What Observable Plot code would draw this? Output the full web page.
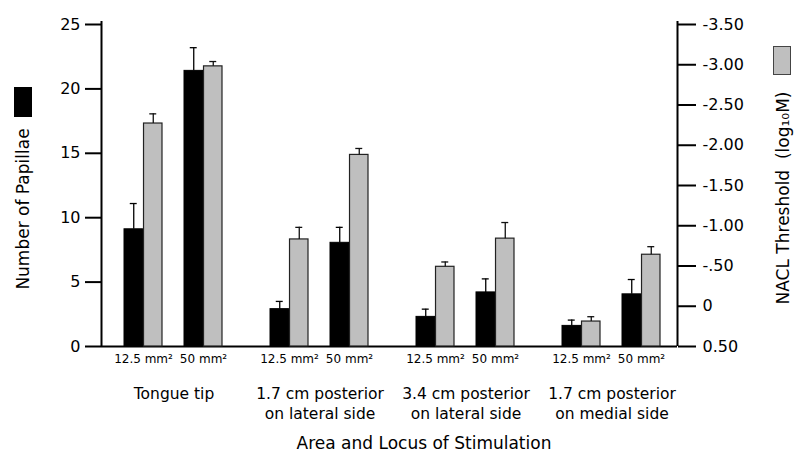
<!DOCTYPE html>
<html>
<head>
<meta charset="utf-8">
<script src="https://cdn.jsdelivr.net/npm/d3@7"></script>
<script src="https://cdn.jsdelivr.net/npm/@observablehq/plot@0.6"></script>
<style>
  html, body { margin: 0; padding: 0; background: white; }
  #chart { position: relative; width: 804px; height: 453px; font-family: "DejaVu Sans", sans-serif; }
  #chart svg { position: absolute; left: 0; top: 0; }
  .swatch { position: absolute; box-sizing: border-box; }
  .vtitle { position: absolute; white-space: pre; font-size: 17px; line-height: 1; color: black;
            transform: translate(-50%, -50%) rotate(-90deg); }
</style>
</head>
<body>
<div id="chart"></div>
<script>
// ---------- data ----------
const groups = ["Tongue tip", "1.7 cm lateral", "3.4 cm lateral", "1.7 cm medial"];
const groupLabels = ["Tongue tip", "1.7 cm posterior\non lateral side", "3.4 cm posterior\non lateral side", "1.7 cm posterior\non medial side"];
const areas = ["12.5 mm²", "50 mm²"];
// order: group1 12.5, group1 50, group2 12.5, ...
const papillae = [9.1, 21.4, 2.9, 8.05, 2.3, 4.2, 1.6, 4.05];
const papillaeErr = [2.0, 1.8, 0.6, 1.2, 0.6, 1.05, 0.45, 1.15];
const threshold = [-2.27, -2.98, -0.83, -1.88, -0.49, -0.84, 0.19, -0.64];
const thresholdErr = [0.12, 0.06, 0.15, 0.08, 0.06, 0.2, 0.06, 0.1];
const leftTicks = [0, 5, 10, 15, 20, 25];
const rightTicks = [-3.5, -3, -2.5, -2, -1.5, -1, -0.5, 0, 0.5];
const rightTickLabels = ["-3.50", "-3.00", "-2.50", "-2.00", "-1.50", "-1.00", "-.50", "0", "0.50"];
const leftDomain = [0, 25];
const rightDomain = [0.5, -3.5];
const leftTitle = "Number of Papillae";
const rightTitle = "NACL Threshold  (log₁₀M)";
const xTitle = "Area and Locus of Stimulation";

// ---------- layout ----------
const W = 804, H = 453;
const margins = {marginLeft: 101, marginRight: 127, marginTop: 24, marginBottom: 107};
const fxOpts = {domain: groups, paddingInner: 0.319, paddingOuter: 0.12, align: 0.6, axis: null};
const xOpts = {domain: areas, paddingInner: 0.36, paddingOuter: 0};
const innerW = W - margins.marginLeft - margins.marginRight;
const fxStep = innerW / (groups.length - fxOpts.paddingInner + 2 * fxOpts.paddingOuter);
const fxBand = fxStep * (1 - fxOpts.paddingInner);
const xBand = fxBand / (areas.length - xOpts.paddingInner) * (1 - xOpts.paddingInner);
const half = xBand / 2;
const capW = 8;
const font = "DejaVu Sans";

const rows = [];
groups.forEach((g, gi) => areas.forEach((a, ai) => {
  const i = gi * areas.length + ai;
  rows.push({group: g, area: a, pap: papillae[i], papErr: papillaeErr[i], thr: threshold[i], thrErr: thresholdErr[i]});
}));
const labelOf = new Map(groups.map((g, i) => [g, groupLabels[i]]));
const rightLabelOf = new Map(rightTicks.map((t, i) => [t, rightTickLabels[i]]));

const base = {width: W, height: H, ...margins, style: {background: "transparent", fontFamily: font, color: "black"}};

// Plot L: left axis, frame lines, x title
const plotL = Plot.plot({
  ...base,
  style: {background: "white", fontFamily: font, color: "black"},
  x: {domain: [0, 1], axis: null},
  y: {domain: leftDomain, axis: null},
  marks: [
    Plot.ruleY([leftDomain[0]], {stroke: "black", strokeWidth: 2}),
    Plot.ruleX([0, 1], {stroke: "black", strokeWidth: 2, insetTop: -3}),
    Plot.axisY(leftTicks, {anchor: "left", tickSize: 16, tickPadding: 5, fontSize: 16, strokeWidth: 2, label: null}),
    Plot.text([xTitle], {frameAnchor: "bottom", dx: 34.5, dy: 97, lineAnchor: "middle", fontSize: 17})
  ]
});

// Plot R: right axis
const plotR = Plot.plot({
  ...base,
  y: {domain: rightDomain, axis: null},
  marks: [
    Plot.axisY(rightTicks, {anchor: "right", tickSize: 18, tickPadding: 7, fontSize: 16, strokeWidth: 2, label: null,
      tickFormat: d => rightLabelOf.get(d)})
  ]
});

// Plot A: black bars (Number of Papillae) + category labels
const plotA = Plot.plot({
  ...base,
  fx: fxOpts,
  x: xOpts,
  y: {domain: leftDomain, axis: null},
  marks: [
    Plot.barY(rows, {fx: "group", x: "area", y1: () => leftDomain[0], y2: "pap", fill: "black", stroke: "black", insetRight: half}),
    Plot.ruleX(rows, {fx: "group", x: "area", y1: "pap", y2: d => d.pap + d.papErr, dx: -half / 2, stroke: "black", strokeWidth: 1.3}),
    Plot.tickY(rows, {fx: "group", x: "area", y: d => d.pap + d.papErr, insetLeft: half / 2 - capW / 2, insetRight: xBand - half / 2 - capW / 2, stroke: "black", strokeWidth: 1.3}),
    Plot.axisX({anchor: "bottom", tickSize: 0, tickPadding: 8, fontSize: 12, label: null}),
    Plot.text(groups, {fx: d => d, text: d => labelOf.get(d), frameAnchor: "bottom", lineAnchor: "top", dy: 38.5, fontSize: 15.5, lineHeight: 1.29})
  ]
});

// Plot B: gray bars (NaCl threshold), reversed right scale
const plotB = Plot.plot({
  ...base,
  fx: fxOpts,
  x: {...xOpts, axis: null},
  y: {domain: rightDomain, axis: null},
  marks: [
    Plot.barY(rows, {fx: "group", x: "area", y1: () => rightDomain[0], y2: "thr", fill: "#bfbfbf", stroke: "#222", strokeWidth: 1.2, insetLeft: half}),
    Plot.ruleX(rows, {fx: "group", x: "area", y1: "thr", y2: d => d.thr - d.thrErr, dx: half / 2, stroke: "#111", strokeWidth: 1.3}),
    Plot.tickY(rows, {fx: "group", x: "area", y: d => d.thr - d.thrErr, insetLeft: xBand - half / 2 - capW / 2, insetRight: half / 2 - capW / 2, stroke: "#111", strokeWidth: 1.3})
  ]
});

const chart = document.getElementById("chart");
chart.append(plotL, plotA, plotB, plotR);

// rotated axis titles
function vtitle(text, cx, cy) {
  const d = document.createElement("div");
  d.className = "vtitle";
  d.textContent = text;
  d.style.left = cx + "px";
  d.style.top = cy + "px";
  chart.append(d);
}
vtitle(leftTitle, 23, 209);
vtitle(rightTitle, 783, 198);

// legend swatches
const sw1 = document.createElement("div");
sw1.className = "swatch";
Object.assign(sw1.style, {left: "14px", top: "87px", width: "18px", height: "30px", background: "black"});
const sw2 = document.createElement("div");
sw2.className = "swatch";
Object.assign(sw2.style, {left: "773px", top: "46px", width: "18px", height: "29px", background: "#bfbfbf", border: "1.5px solid #444"});
chart.append(sw1, sw2);
</script>
</body>
</html>
